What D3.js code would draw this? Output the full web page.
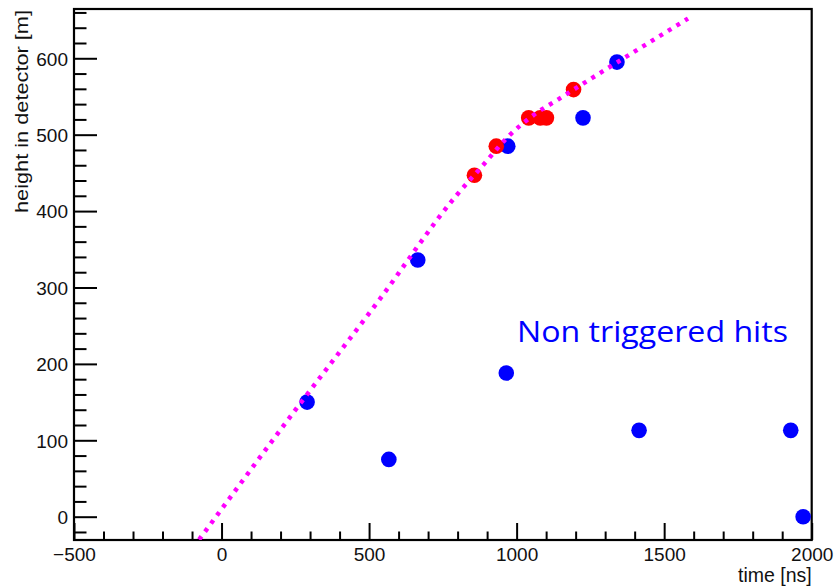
<!DOCTYPE html>
<html>
<head>
<meta charset="utf-8">
<script src="https://cdn.jsdelivr.net/npm/d3@7"></script>
<style>
  html, body { margin: 0; padding: 0; background: #fff; }
  svg { display: block; }
  text { font-family: "Liberation Sans", Arial, sans-serif; fill: #111; }
</style>
</head>
<body>
<svg id="chart"></svg>
<script>
const width = 836;
const height = 588;

// hits on the track (red = triggered)
const triggeredTime = [857, 931, 1041, 1080, 1101, 1193];
const triggeredHeight = [447, 485, 522, 522, 522, 559];

// all other hits (blue)
const hitTime = [290, 567, 665, 965, 970, 1225, 1340, 1415, 1929, 1971];
const hitHeight = [150, 75, 336, 188, 485, 522, 595, 113, 113, 0];

// fitted track
const fitTime = [-76, 241, 529, 795, 886, 970, 1055, 1140, 1259, 1434, 1581];
const fitHeight = [-30, 135, 281, 420, 460, 497, 525, 546, 575, 617, 652];

const xMajor = [-500, 0, 500, 1000, 1500, 2000];
const yMajor = [0, 100, 200, 300, 400, 500, 600];

const svg = d3.select('#chart')
  .attr('width', width)
  .attr('height', height);

const x = d3.scaleLinear().domain([-500, 2000]).range([74, 811.7]);
const y = d3.scaleLinear().domain([-30.5, 664.5]).range([540, 9]);

const xMinor = d3.range(-400, 2000, 100).filter(v => v % 500 !== 0);
const yMinor = d3.range(-20, 665, 20).filter(v => v % 100 !== 0);

svg.append('clipPath').attr('id', 'plot')
  .append('rect')
  .attr('x', x(-500)).attr('y', y(664.5))
  .attr('width', x(2000) - x(-500)).attr('height', y(-30.5) - y(664.5));

// axes
const gx = svg.append('g').attr('transform', `translate(0,${y(-30.5)})`);
gx.append('g')
  .call(d3.axisBottom(x).tickValues(xMinor).tickSize(-8.5).tickFormat(''));
gx.append('g')
  .call(d3.axisBottom(x).tickValues(xMajor).tickSize(-17).tickFormat(d => d < 0 ? '\u2212' + (-d) : d));

const gy = svg.append('g').attr('transform', `translate(${x(-500)},0)`);
gy.append('g')
  .call(d3.axisLeft(y).tickValues(yMinor).tickSize(-12.5).tickFormat(''));
gy.append('g')
  .call(d3.axisLeft(y).tickValues(yMajor).tickSize(-23).tickFormat(d => d));

svg.selectAll('.domain').remove();
svg.selectAll('.tick line').attr('stroke', '#000').attr('stroke-width', 2);

gx.selectAll('.tick text')
  .attr('y', 21).attr('dy', 0)
  .style('font-size', '19px')
  .style('font-family', '"Liberation Sans", Arial, sans-serif')
  .attr('fill', '#111');

gy.selectAll('.tick text')
  .attr('x', -6).attr('dy', '0.36em')
  .style('font-size', '19px')
  .style('font-family', '"Liberation Sans", Arial, sans-serif')
  .attr('fill', '#111');

// frame
svg.append('rect')
  .attr('x', x(-500)).attr('y', y(664.5))
  .attr('width', x(2000) - x(-500)).attr('height', y(-30.5) - y(664.5))
  .attr('fill', 'none')
  .attr('stroke', '#000')
  .attr('stroke-width', 2.2);

// points
svg.append('g')
  .selectAll('circle')
  .data(hitTime)
  .enter().append('circle')
  .attr('cx', (d, i) => x(d))
  .attr('cy', (d, i) => y(hitHeight[i]))
  .attr('r', 7.8)
  .attr('fill', '#0000ff');

svg.append('g')
  .selectAll('circle')
  .data(triggeredTime)
  .enter().append('circle')
  .attr('cx', (d, i) => x(d))
  .attr('cy', (d, i) => y(triggeredHeight[i]))
  .attr('r', 7.8)
  .attr('fill', '#ff0000');

// fit line, drawn over the hits
const line = d3.line()
  .x((d, i) => x(fitTime[i]))
  .y((d, i) => y(fitHeight[i]))
  .curve(d3.curveMonotoneX);

svg.append('path')
  .attr('clip-path', 'url(#plot)')
  .attr('d', line(fitTime))
  .attr('fill', 'none')
  .attr('stroke', '#ff00ff')
  .attr('stroke-width', 4.5)
  .attr('stroke-dasharray', '4,6');

// titles
svg.append('text')
  .attr('x', 811.7).attr('y', 582)
  .attr('text-anchor', 'end')
  .style('font-size', '19.5px')
  .text('time [ns]');

svg.append('text')
  .attr('transform', 'translate(28,10) rotate(-90)')
  .attr('text-anchor', 'end')
  .style('font-size', '19px')
  .attr('textLength', 203)
  .attr('lengthAdjust', 'spacingAndGlyphs')
  .text('height in detector [m]');

svg.append('text')
  .attr('x', 517).attr('y', 341.5)
  .attr('textLength', 271)
  .attr('lengthAdjust', 'spacingAndGlyphs')
  .style('font-family', '"Open Sans", "Noto Sans", sans-serif')
  .style('font-size', '30px')
  .style('fill', '#0000ff')
  .text('Non triggered hits');
</script>
</body>
</html>
